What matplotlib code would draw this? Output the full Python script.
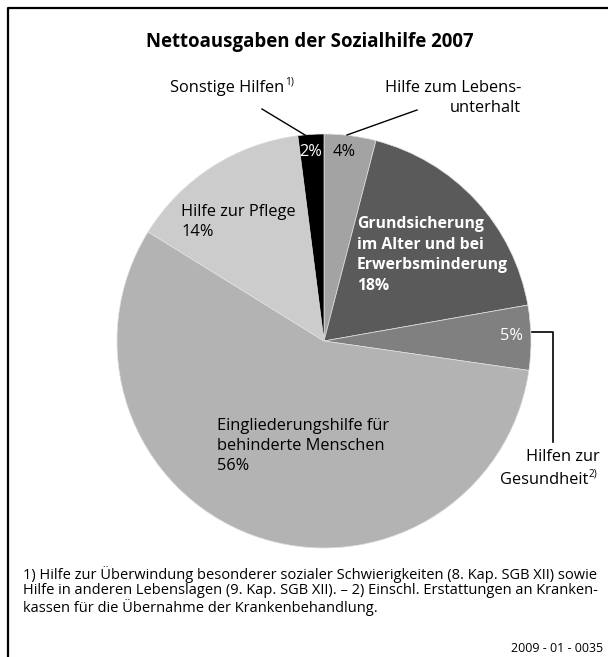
import matplotlib
matplotlib.use('Agg')
import numpy as np
from matplotlib import pyplot as plt

plt.rcParams['font.family'] = ['Open Sans', 'DejaVu Sans']

# Nettoausgaben 2007, Anteile in %
categories = ['Hilfe zum Lebensunterhalt',
              'Grundsicherung im Alter und bei Erwerbsminderung',
              'Hilfen zur Gesundheit',
              'Eingliederungshilfe für behinderte Menschen',
              'Hilfe zur Pflege',
              'Sonstige Hilfen']
shares = [4, 18, 5, 56, 14, 2]
colors = ['#a3a3a3', '#5a5a5a', '#808080', '#b3b3b3', '#cccccc', '#000000']

W, H = 608, 657
fig = plt.figure(figsize=(W / 100, H / 100), dpi=100)
ax = fig.add_axes([0, 0, 1, 1])

def y(v):
    # image rows counted from the top
    return H - v

ax.pie(shares, colors=colors, startangle=90, counterclock=False,
       center=(324, y(341)), radius=207, frame=True,
       wedgeprops=dict(edgecolor='#e0e0e0', linewidth=0.5))
ax.set_xlim(0, W)
ax.set_ylim(0, H)
ax.set_aspect('equal')
ax.axis('off')

# frame: only top and left edge
ax.plot([8, 8, W], [0, y(8), y(8)], color='black', lw=1.6, solid_capstyle='butt')

ax.text(310, y(42), 'Nettoausgaben der Sozialhilfe 2007', ha='center', va='center',
        fontsize=13.4, fontweight='bold')

fs = 11.8
pct = ['%d%%' % v for v in shares]

def sup(t, s):
    # footnote mark after the last line of a label
    ax.annotate(s, xy=(1, 1), xycoords=t, xytext=(0.5, 2.5), textcoords='offset points',
                ha='left', va='top', fontsize=fs * 0.62)

# Sonstige Hilfen
t = ax.text(170, y(88), 'Sonstige Hilfen', ha='left', va='center', fontsize=fs)
sup(t, '1)')
ax.plot([262, 305], [y(109), y(135)], color='black', lw=1)
ax.text(299, y(152), pct[5], ha='left', va='center', fontsize=fs, color='white')

# Hilfe zum Lebensunterhalt
ax.text(521, y(98), 'Hilfe zum Lebens-\nunterhalt', ha='right', va='center',
        fontsize=fs, linespacing=1.25)
ax.plot([417, 347], [y(110), y(135)], color='black', lw=1)
ax.text(333, y(152), pct[0], ha='left', va='center', fontsize=fs)

# Grundsicherung
ax.text(357, y(255), 'Grundsicherung\nim Alter und bei\nErwerbsminderung\n' + pct[1],
        ha='left', va='center', fontsize=11.3, fontweight='bold', color='white',
        linespacing=1.4)

# Hilfen zur Gesundheit
ax.text(523, y(336), pct[2], ha='right', va='center', fontsize=fs, color='white')
ax.plot([532, 553, 553], [y(332), y(332), y(442)], color='black', lw=1.2)
ax.text(600, y(457), 'Hilfen zur', ha='right', va='center', fontsize=fs)
t = ax.text(588, y(480), 'Gesundheit', ha='right', va='center', fontsize=fs)
sup(t, '2)')

# Eingliederungshilfe
ax.text(217, y(446), 'Eingliederungshilfe für\nbehinderte Menschen\n' + pct[3],
        ha='left', va='center', fontsize=fs, linespacing=1.35)

# Hilfe zur Pflege
ax.text(181, y(222), 'Hilfe zur Pflege\n' + pct[4], ha='left', va='center',
        fontsize=fs, linespacing=1.3)

# Fußnoten
notes = ('1) Hilfe zur Überwindung besonderer sozialer Schwierigkeiten (8. Kap. SGB XII) sowie\n'
         'Hilfe in anderen Lebenslagen (9. Kap. SGB XII). – 2) Einschl. Erstattungen an Kranken-\n'
         'kassen für die Übernahme der Krankenbehandlung.')
ax.text(23, y(591), notes, ha='left', va='center', fontsize=10.55, linespacing=1.03)
ax.text(603, y(648), '2009 - 01 - 0035', ha='right', va='center', fontsize=9)

fig.savefig('out.png', dpi=100)
